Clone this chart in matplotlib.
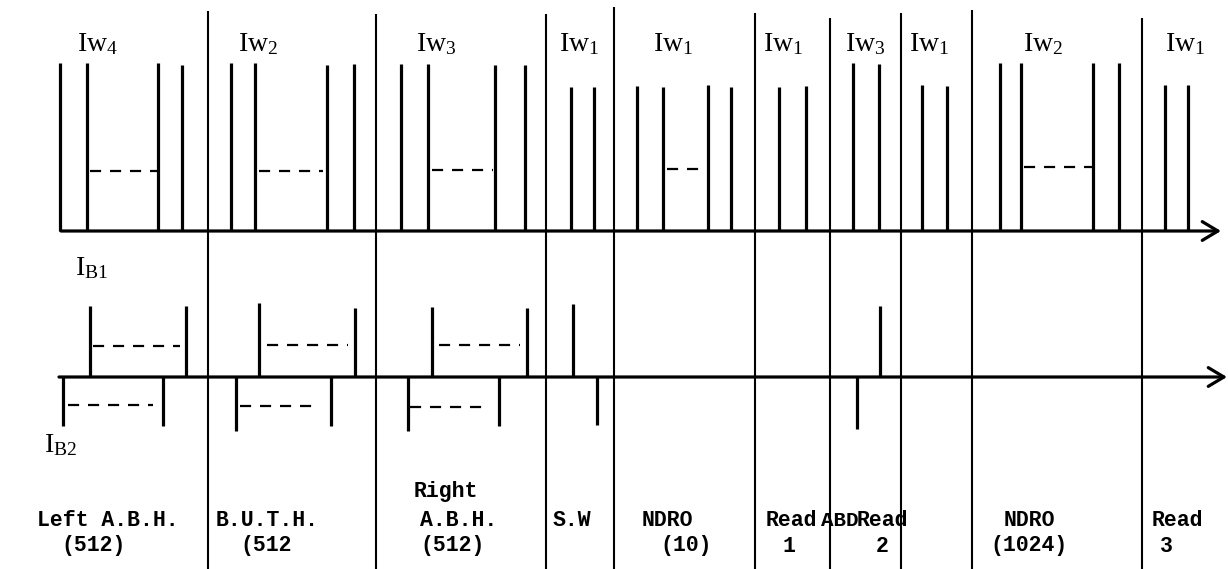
import matplotlib.pyplot as plt

plt.rcParams['mathtext.fontset'] = 'custom'
plt.rcParams['mathtext.rm'] = 'Liberation Sans'
plt.rcParams['mathtext.default'] = 'regular'

# word current pulses (Iw): time and height above the line
iw_times = [60, 87, 158, 182, 231, 255, 327, 354, 401, 428, 495, 525,
            571, 594, 637, 663, 708, 731, 779, 806, 853, 879, 922, 947,
            1000, 1021, 1093, 1119, 1165, 1188]
iw_heights = [168, 168, 168, 166, 168, 168, 166, 167, 167, 167, 166, 166,
              144, 144, 145, 144, 146, 144, 144, 145, 168, 167, 146, 145,
              168, 168, 168, 168, 146, 146]
# dashed runs meaning "repeated pulses"
iw_dash_start = [90, 259, 432, 667, 1024]
iw_dash_end = [157, 323, 493, 702, 1092]
iw_dash_level = [60, 60, 61, 62, 64]

# bit currents: IB1 up, IB2 down
ib1_times = [90, 186, 259, 355, 432, 527, 573, 880]
ib1_heights = [71, 71, 74, 69, 70, 69, 73, 71]
ib2_times = [63, 163, 236, 331, 408, 499, 597, 857]
ib2_depths = [49, 49, 54, 49, 54, 49, 48, 52]
ib1_dash_start = [93, 267, 439]
ib1_dash_end = [180, 348, 520]
ib1_dash_level = [31, 32, 32]
ib2_dash_start = [68, 240, 410]
ib2_dash_end = [153, 320, 490]
ib2_dash_level = [28, 29, 30]

# section boundaries
dividers = [208, 376, 546, 614, 755, 830, 901, 972, 1142]
divider_tops = [11, 14, 14, 7, 13, 18, 13, 10, 18]

iw_labels = ['Iw$_4$', 'Iw$_2$', 'Iw$_3$', 'Iw$_1$', 'Iw$_1$', 'Iw$_1$',
             'Iw$_3$', 'Iw$_1$', 'Iw$_2$', 'Iw$_1$']
iw_label_x = [77, 238, 416, 559, 653, 763, 845, 909, 1023, 1165]

section_line1 = ['Left A.B.H.', 'B.U.T.H.', 'A.B.H.', 'S.W', 'NDRO', 'Read',
                 'Read', 'NDRO', 'Read']
section_line1_x = [37, 216, 420, 553, 642, 766, 857, 1004, 1152]
section_line2 = ['(512)', '(512', '(512)', '(10)', '1', '2', '(1024)', '3']
section_line2_x = [61, 240, 420, 660, 782, 876, 990, 1160]

top_base = 231
bot_base = 377

fig = plt.figure(figsize=(12.28, 5.69), dpi=100)
ax = fig.add_axes([0, 0, 1, 1])
ax.set_xlim(0, 1228)
ax.set_ylim(569, 0)
ax.axis('off')

ax.vlines(dividers, divider_tops, 569, color='k', lw=1.5)

ax.vlines(iw_times, [top_base - h for h in iw_heights], top_base, color='k', lw=2.3)
ax.hlines([top_base - l for l in iw_dash_level], iw_dash_start, iw_dash_end,
          color='k', lw=1.6, linestyles=(0, (5, 4)))

ax.vlines(ib1_times, [bot_base - h for h in ib1_heights], bot_base, color='k', lw=2.3)
ax.vlines(ib2_times, bot_base, [bot_base + d for d in ib2_depths], color='k', lw=2.3)
ax.hlines([bot_base - l for l in ib1_dash_level], ib1_dash_start, ib1_dash_end,
          color='k', lw=1.6, linestyles=(0, (5, 4)))
ax.hlines([bot_base + l for l in ib2_dash_level], ib2_dash_start, ib2_dash_end,
          color='k', lw=1.6, linestyles=(0, (5, 4)))

arrow = dict(arrowstyle='->,head_length=0.75,head_width=0.45', lw=2.3, color='k',
             shrinkA=0, shrinkB=0, mutation_scale=15)
ax.annotate('', xy=(1221, top_base), xytext=(61, top_base), arrowprops=arrow)
ax.annotate('', xy=(1227, bot_base), xytext=(59, bot_base), arrowprops=arrow)

serif = dict(family='Liberation Serif', fontsize=20, va='center', ha='left')
for lab, x in zip(iw_labels, iw_label_x):
    ax.text(x, 44, lab, **serif)
ax.text(75, 268, 'I$_{B1}$', **serif)
ax.text(44, 445, 'I$_{B2}$', **serif)

mono = dict(family='Liberation Mono', weight='bold', va='center', ha='left', fontsize=15.5)
ax.text(414, 491, 'Right', **mono)
for lab, x in zip(section_line1, section_line1_x):
    ax.text(x, 521, lab, **mono)
for lab, x in zip(section_line2, section_line2_x):
    ax.text(x, 546, lab, **mono)
# the squeezed "ABD" between Read 1 and Read 2
ax.text(821, 521, 'ABD', family=['Liberation Sans Narrow', 'Liberation Mono'],
        weight='bold', fontsize=15, va='center', ha='left')

fig.savefig('out.png', dpi=100)
